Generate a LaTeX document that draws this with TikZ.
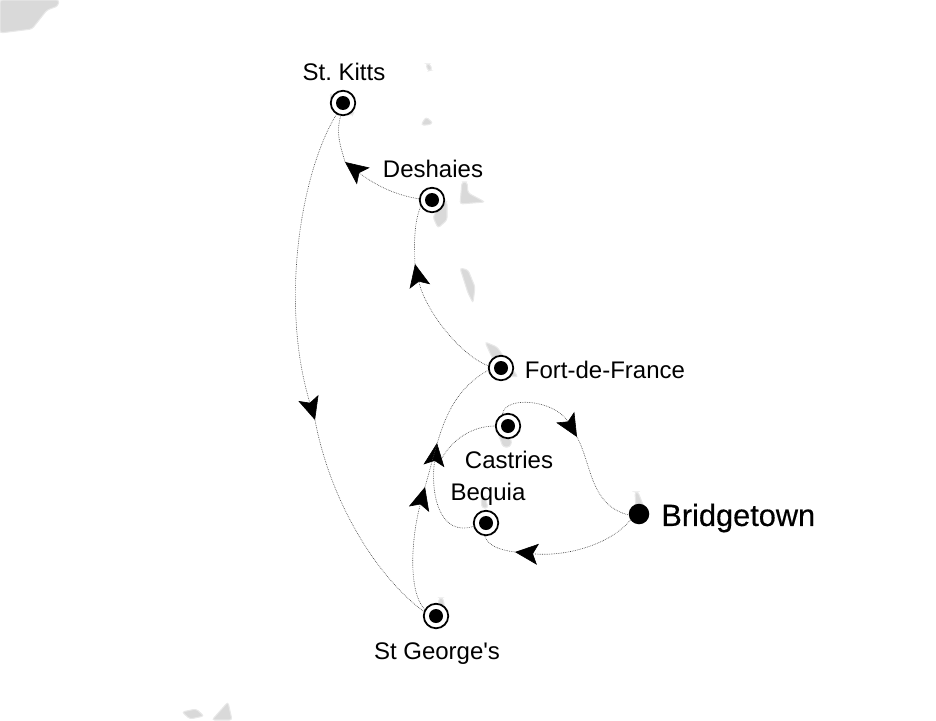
\documentclass[tikz,border=0pt]{standalone}
\usepackage{fontspec}
\setmainfont{Liberation Sans}
\newfontfamily\homefont[FakeBold=0.35]{Liberation Sans}
\usetikzlibrary{arrows.meta}
\frenchspacing
\tikzset{
	island/.style={fill=black!15, draw=black!9, line width=0.6pt, rounded corners=1.5pt},
	port/.style={circle, draw, fill=white, line width=1pt, inner sep=0, minimum size=0.49cm},
	portdot/.style={circle, fill=black, inner sep=0, minimum size=0.28cm},
	homedot/.style={circle, fill=black, inner sep=0, minimum size=0.41cm},
	portname/.style={font=\fontsize{13.66}{16}\selectfont},
	homename/.style={font=\homefont\fontsize{17.5}{20}\selectfont, inner sep=0},
	route/.style={black!75, line width=0.35pt, dash pattern=on 0.4pt off 0.6pt},
	routetip/.style={route, -{Stealth[black, length=0.46cm, width=0.42cm, inset=0.1cm]}}
}
\begin{document}
\begin{tikzpicture}[x=0.02cm, y=-0.02cm]
	\useasboundingbox (0,0) rectangle (936,720);
	%islands
	\fill[island] (0,0) -- (59,0) -- (58,6) -- (47,10) -- (32,29) -- (0,33) -- cycle;
	\fill[island] (182,712) -- (196,709) -- (204,716) -- (190,719) -- cycle;
	\fill[island] (212,720) -- (228,702) -- (232,720) -- cycle;
	\fill[island] (426,64) -- (430,64) -- (432,70) -- (428,71) -- cycle;
	\fill[island] (421,125) -- (426,117) -- (433,123) -- (428,125) -- cycle;
	\fill[island] (330,93) -- (354,112) -- (352,116) -- (332,105) -- cycle;
	\fill[island] (462,182) -- (467,182) -- (468,193) -- (485,202) -- (460,204) -- cycle;
	\fill[island] (433,217) -- (443,200) -- (447,202) -- (447,220) -- (438,228) -- cycle;
	\fill[island] (460,268) -- (468,270) -- (475,287) -- (473,303) -- (468,293) -- cycle;
	\fill[island] (485,342) -- (497,347) -- (518,377) -- (500,375) -- cycle;
	\fill[island] (498,433) -- (512,440) -- (510,447) -- (503,447) -- cycle;
	\fill[island] (481,497) -- (485,497) -- (488,508) -- (482,508) -- cycle;
	\fill[island] (635,492) -- (638,492) -- (645,510) -- (636,510) -- cycle;
	\fill[island] (439,598) -- (443,598) -- (445,610) -- (438,610) -- cycle;
	%ports
	\foreach \name/\px/\py in {stkitts/343/103, deshaies/432/200, fortdefrance/501/368, castries/508/426, bequia/486/523, stgeorges/436/616} {
		\node[port] (\name) at (\px,\py) {};
		\node[portdot] (\name dot) at (\name) {};
	}
	\node[homedot] (bridgetown) at (639,514) {};
	%names
	\node[portname] (stkittsname) at (344,72) {St.\ Kitts};
	\node[portname] (deshaiesname) at (433,169) {Deshaies};
	\node[portname] (fortname) at (605,370) {Fort-de-France};
	\node[portname] (castriesname) at (509,460) {Castries};
	\node[portname] (bequianame) at (488,494) {Bequia};
	\node[portname] (stgeorgesname) at (437,654) {St George\textquotesingle s};
	\node[homename, anchor=west] (bridgetownname) at (661,518) {Bridgetown};
	%arrow points
	\coordinate (tipa) at (515,552);
	\coordinate (tipb) at (577,437);
	\coordinate (tipc) at (437,443);
	\coordinate (backc) at (442,458);
	\coordinate (tipd) at (425,487);
	\coordinate (tipe) at (415,264);
	\coordinate (tipf) at (345,162);
	\coordinate (tipg) at (315,420);
	%route
	\draw[routetip] (bridgetown.215) .. controls (610,545) and (565,557) .. (tipa);
	\draw[route] (tipa) .. controls (500,550) and (488,546) .. (bequia.265);
	\draw[routetip] (bequia.195) .. controls (440,537) and (430,495) .. (tipc);
	\draw[route] (backc) .. controls (452,440) and (472,426) .. (castries.180);
	\draw[routetip] (castries.115) .. controls (505,395) and (555,400) .. (tipb);
	\draw[route] (tipb) .. controls (592,465) and (590,505) .. (bridgetown.185);
	\draw[routetip] (stgeorges.150) .. controls (407,590) and (412,535) .. (tipd);
	\draw[route] (tipd) .. controls (440,435) and (445,395) .. (fortdefrance.190);
	\draw[routetip] (fortdefrance.170) .. controls (460,355) and (425,310) .. (tipe);
	\draw[route] (tipe) .. controls (414,245) and (414,222) .. (deshaies.210);
	\draw[routetip] (deshaies.175) .. controls (395,195) and (375,185) .. (tipf);
	\draw[route] (tipf) .. controls (342,150) and (335,135) .. (stkitts.260);
	\draw[routetip] (stkitts.240) .. controls (302,170) and (279,300) .. (tipg);
	\draw[route] (tipg) .. controls (330,500) and (375,575) .. (stgeorges.160);
\end{tikzpicture}
\end{document}
